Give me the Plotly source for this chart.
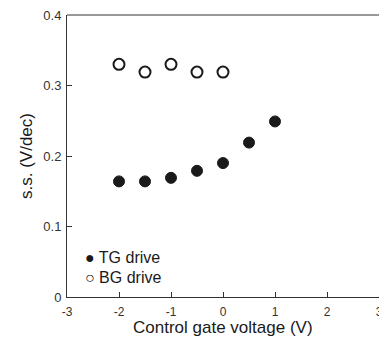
import plotly.graph_objects as go

tg_x = [-2, -1.5, -1, -0.5, 0, 0.5, 1]
tg_y = [0.164, 0.164, 0.169, 0.179, 0.19, 0.219, 0.249]
bg_x = [-2, -1.5, -1, -0.5, 0]
bg_y = [0.330, 0.319, 0.330, 0.319, 0.319]
legend_labels = ["● TG drive", "○ BG drive"]

FONT = "Liberation Sans, Arial, sans-serif"
INK = "#1a1a1a"

fig = go.Figure()
fig.add_trace(go.Scatter(x=tg_x, y=tg_y, mode="markers", name="TG drive",
                         marker=dict(symbol="circle", size=11, color=INK,
                                     line=dict(color=INK, width=1))))
fig.add_trace(go.Scatter(x=bg_x, y=bg_y, mode="markers", name="BG drive",
                         marker=dict(symbol="circle", size=11, color="white",
                                     line=dict(color=INK, width=2))))

for i, lab in enumerate(legend_labels):
    fig.add_annotation(x=0.05, y=0.141, xref="paper", yref="paper",
                       yshift=-20 * i,
                       xanchor="left", yanchor="middle", showarrow=False,
                       text=lab, font=dict(family=FONT, size=16, color=INK))

fig.add_annotation(x=0.5, y=0, xref="paper", yref="paper", yshift=-30,
                   xanchor="center", yanchor="middle", showarrow=False,
                   text="Control gate voltage (V)", font=dict(family=FONT, size=17, color=INK))

fig.update_layout(
    width=379, height=338,
    margin=dict(l=67, r=0, t=15, b=41),
    paper_bgcolor="white", plot_bgcolor="white",
    font=dict(family=FONT, size=13, color="#333333"),
    showlegend=False,
    xaxis=dict(range=[-3, 3], tickvals=[-3, -2, -1, 0, 1, 2, 3],
               ticktext=["-3", "-2", "-1", "0", "1", "2", "3"],
               automargin=False,
               showgrid=False, zeroline=False, showline=True, linecolor="#333333",
               linewidth=1, ticks="inside", ticklen=5, tickcolor="#333333",
               tickfont=dict(size=12), ticklabelstandoff=4, ticklabeloverflow="allow"),
    yaxis=dict(range=[0, 0.4], tickvals=[0, 0.1, 0.2, 0.3, 0.4],
               ticktext=["0", "0.1", "0.2", "0.3", "0.4"],
               automargin=False,
               showgrid=False, zeroline=False, showline=True, linecolor="#333333",
               linewidth=1, ticks="inside", ticklen=5, tickcolor="#333333",
               tickfont=dict(size=13), ticklabelstandoff=2,
               title=dict(text="s.s. (V/dec)", font=dict(size=17, color=INK), standoff=6)),
    shapes=[dict(type="line", xref="paper", yref="paper", x0=0, x1=1, y0=1, y1=1,
                 line=dict(color="#333333", width=1))],
)

fig.write_html("out.html")
